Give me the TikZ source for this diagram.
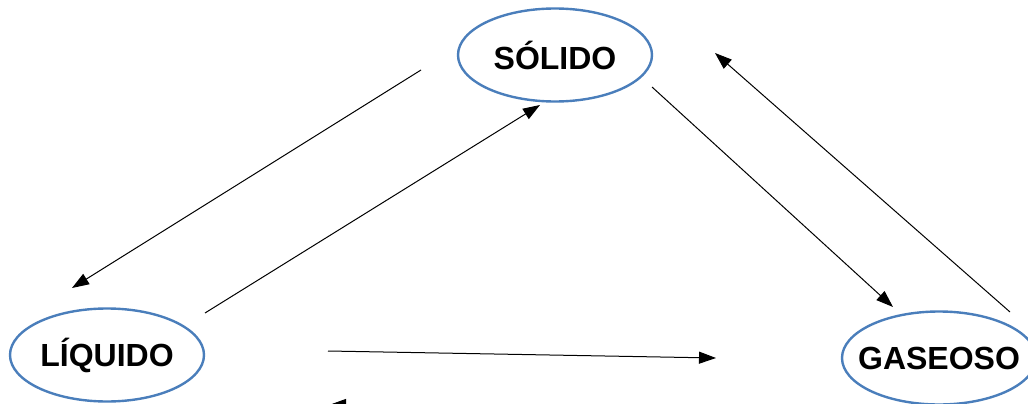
\documentclass[tikz,border=0pt]{standalone}
\usepackage{fontspec}
\setmainfont{Liberation Sans}
\usetikzlibrary{shapes.geometric,arrows.meta}
\definecolor{ellblue}{RGB}{74,126,187}
\begin{document}
\begin{tikzpicture}[x=1pt,y=-1pt,
  state/.style={ellipse,draw=ellblue,line width=2.4pt,minimum width=194pt,minimum height=93pt,inner sep=0pt,inner xsep=-20pt,font=\fontsize{32}{32}\selectfont\bfseries},
  conn/.style={line width=1pt,-{Triangle[length=17pt,width=12pt]}}]
\useasboundingbox (0,0) rectangle (1028,404);
\clip (0,0) rectangle (1028,404);
\node[state] (sol) at (555,55) {SÓLIDO};
\node[state] (liq) at (107,355) {LÍQUIDO};
\node[state] (gas) at (939,358) {GASEOSO};
\coordinate (a1) at (421,70);   \coordinate (b1) at (72,288);
\coordinate (a2) at (205,313);  \coordinate (b2) at (540,105);
\coordinate (a3) at (652,87);   \coordinate (b3) at (893,307);
\coordinate (a4) at (1010,312); \coordinate (b4) at (715,53);
\coordinate (a5) at (328,351);  \coordinate (b5) at (716,358);
\coordinate (a6) at (716,405);  \coordinate (b6) at (329,405);
\draw[conn] (a1) -- (b1);
\draw[conn] (a2) -- (b2);
\draw[conn] (a3) -- (b3);
\draw[conn] (a4) -- (b4);
\draw[conn] (a5) -- (b5);
\draw[conn] (a6) -- (b6);
\end{tikzpicture}
\end{document}
